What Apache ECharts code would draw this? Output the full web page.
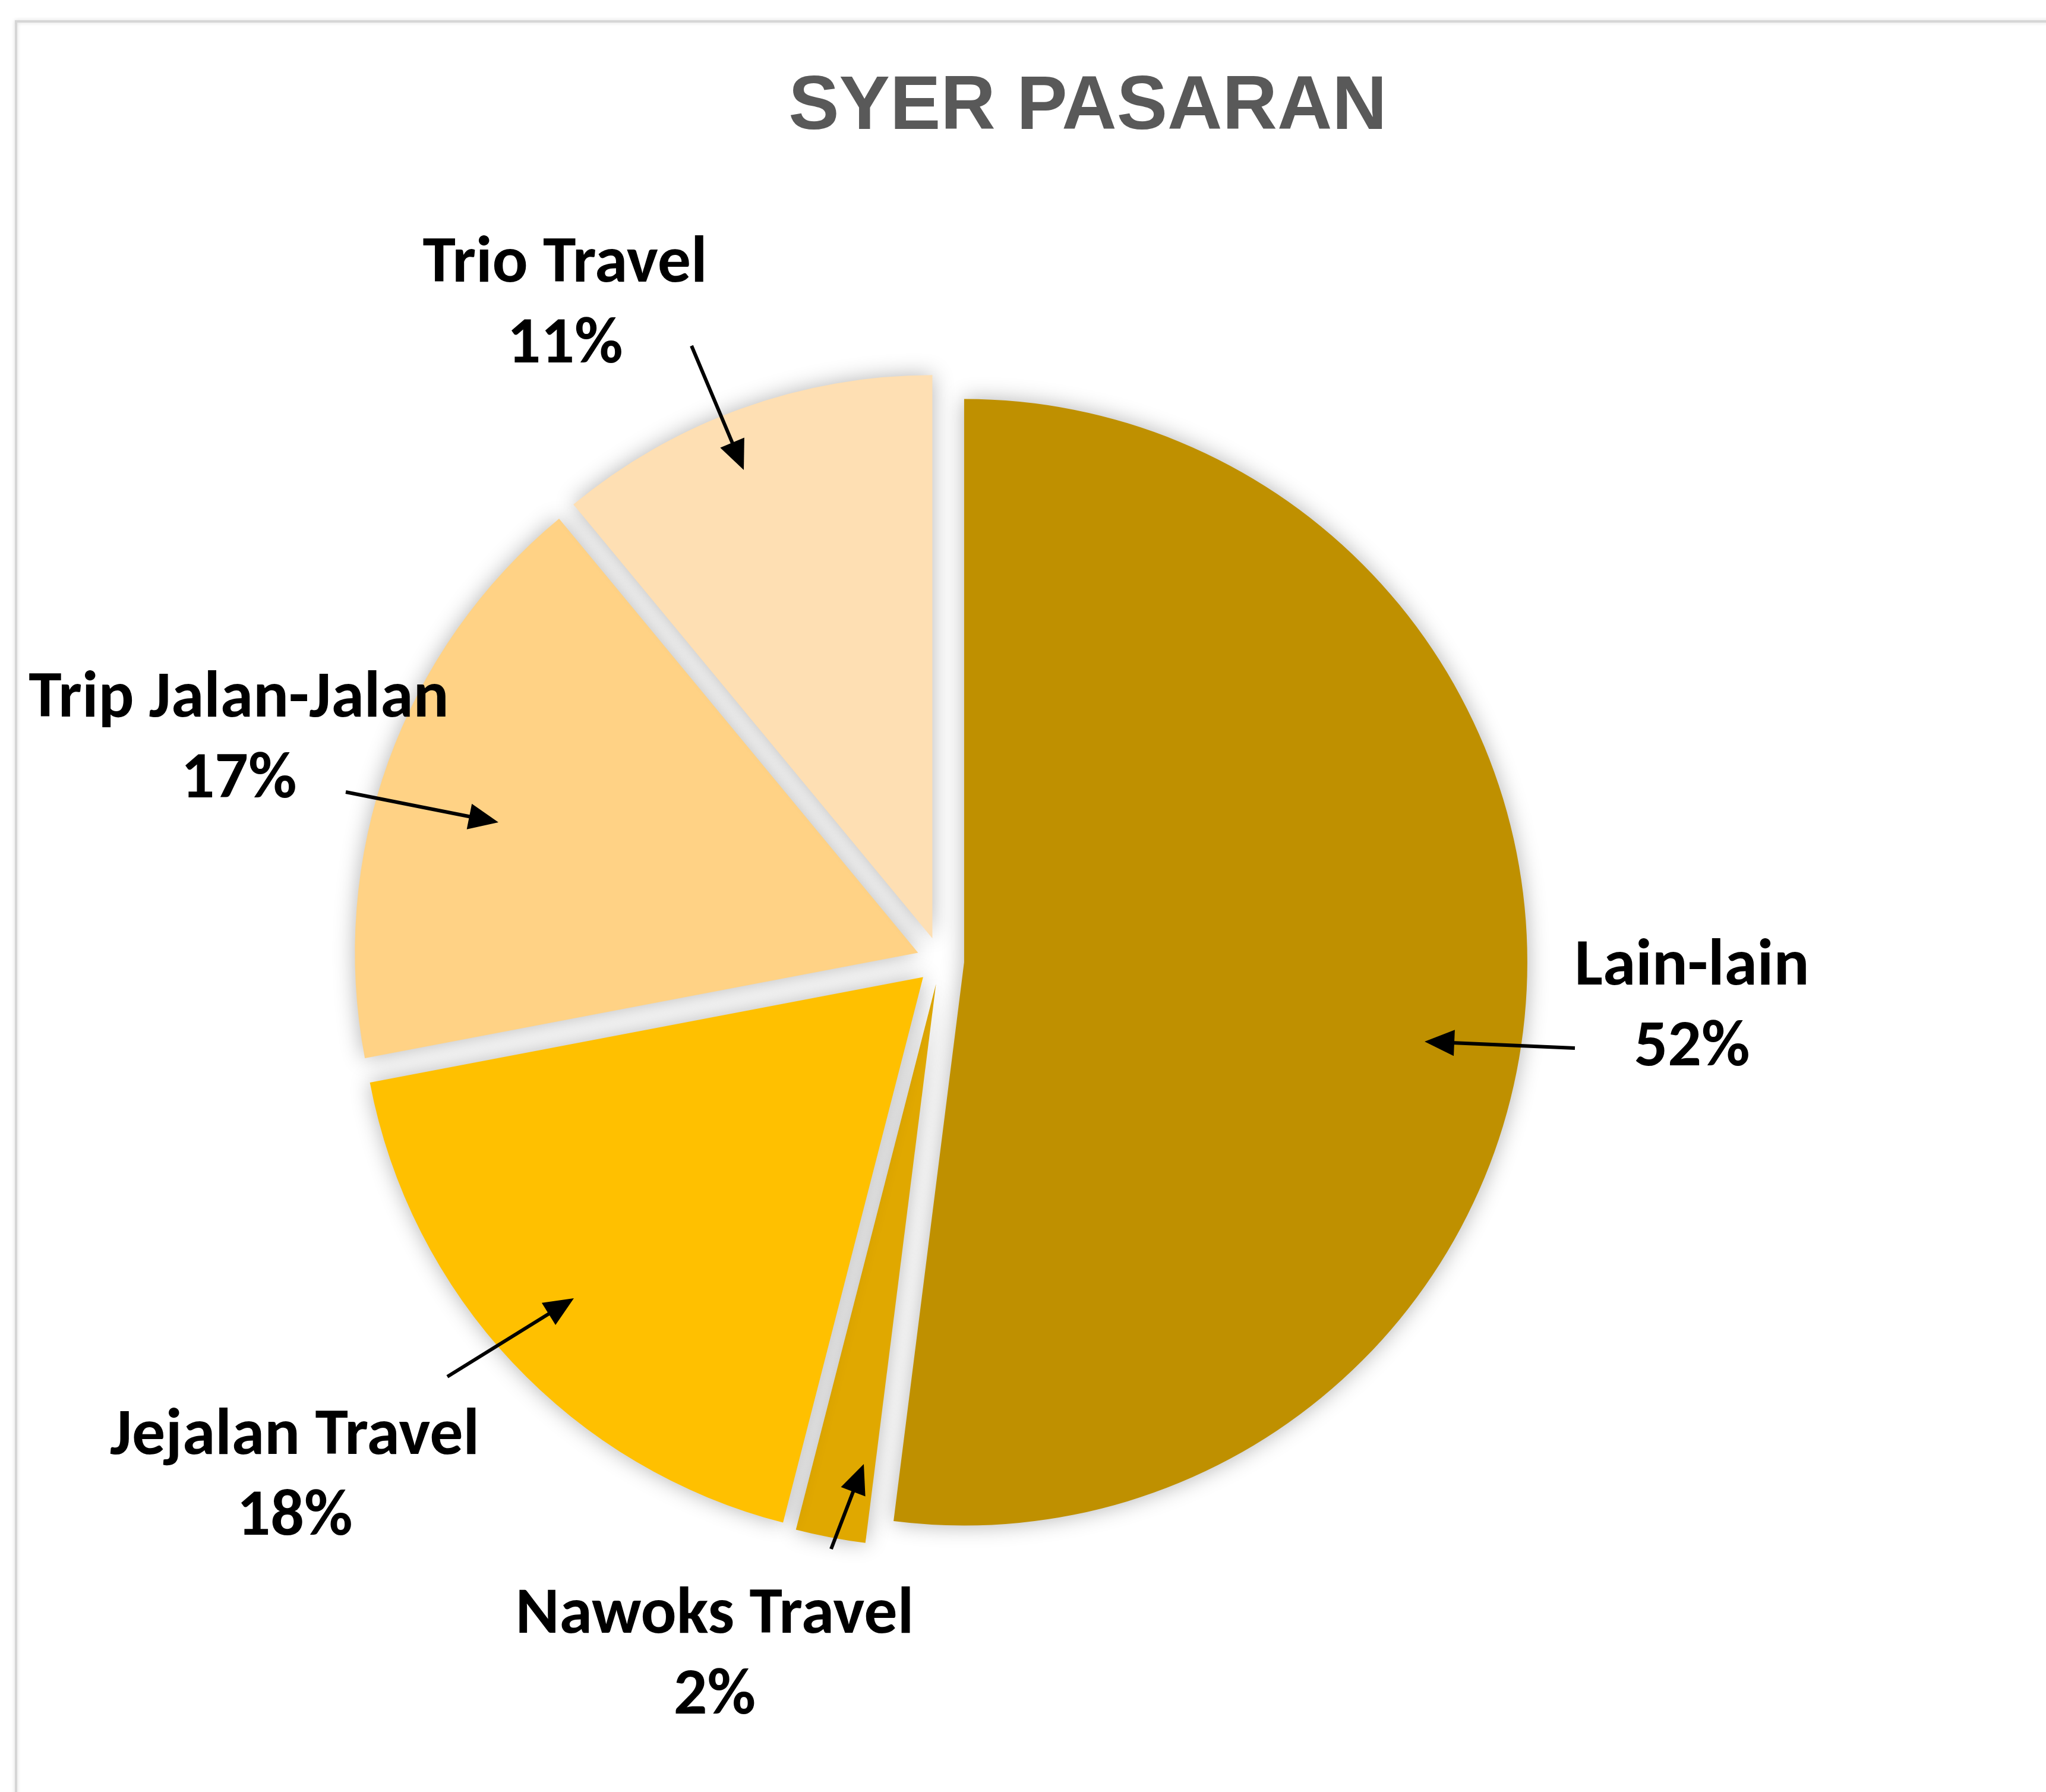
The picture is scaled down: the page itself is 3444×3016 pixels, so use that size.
<!DOCTYPE html>
<html>
<head>
<meta charset="utf-8">
<title>SYER PASARAN</title>
<script src="https://cdn.jsdelivr.net/npm/echarts@6/dist/echarts.min.js"></script>
<style>
  html, body { margin: 0; padding: 0; background: #fff; }
  #chart { width: 3444px; height: 3016px; }
</style>
</head>
<body>
<div id="chart"></div>
<script>
// data
var categories = ['Lain-lain', 'Nawoks Travel', 'Jejalan Travel', 'Trip Jalan-Jalan', 'Trio Travel'];
var shares = [52, 2, 18, 17, 11];
var colors = ['#BF9000', '#E0A800', '#FFC000', '#FFD285', '#FEDFB3'];

// layout of the pie (px)
var cx = 1583, cy = 1617, R = 948, explode = 40;

// callouts: label centre, arrow start, arrow tip
var labelPos = [[2848, 1697], [1203, 2788], [496, 2487], [402, 1246], [951, 514]];
var arrowTail = [[2651, 1764], [1399, 2607], [753, 2317], [582, 1333], [1164, 582]];
var arrowTip = [[2398, 1753], [1454, 2464], [966, 2185], [839, 1384], [1252, 791]];

var chart = echarts.init(document.getElementById('chart'));

var total = shares.reduce(function (s, v) { return s + v; }, 0);

var graphics = [{
  type: 'rect',
  shape: { x: 27, y: 36, width: 3600, height: 3200 },
  style: { fill: 'none', stroke: '#d6d6d6', lineWidth: 4, shadowBlur: 6, shadowColor: 'rgba(0,0,0,0.15)' },
  silent: true
}];

categories.forEach(function (name, i) {
  var pct = Math.round(shares[i] / total * 100);
  graphics.push({
    type: 'text',
    z: 10, silent: true,
    style: {
      text: name + '\n' + pct + '%',
      x: labelPos[i][0],
      y: labelPos[i][1],
      align: 'center',
      verticalAlign: 'middle',
      fontFamily: 'Carlito, Lato, sans-serif',
      fontWeight: 'bold',
      fontSize: 112,
      lineHeight: 136,
      fill: '#000'
    }
  });

  var tip = arrowTip[i], tail = arrowTail[i];
  var ux = tip[0] - tail[0], uy = tip[1] - tail[1];
  var len = Math.sqrt(ux * ux + uy * uy);
  ux /= len; uy /= len;
  var headL = 50, headW = 44;
  var base = [tip[0] - ux * headL, tip[1] - uy * headL];
  graphics.push({
    type: 'line',
    z: 10, silent: true,
    shape: { x1: tail[0], y1: tail[1], x2: base[0] + ux * 4, y2: base[1] + uy * 4 },
    style: { stroke: '#000', lineWidth: 6 }
  });
  graphics.push({
    type: 'polygon',
    z: 10, silent: true,
    shape: { points: [tip, [base[0] - uy * headW / 2, base[1] + ux * headW / 2], [base[0] + uy * headW / 2, base[1] - ux * headW / 2]] },
    style: { fill: '#000' }
  });
});

var option = {
  backgroundColor: '#ffffff',
  animation: false,
  title: {
    text: 'SYER PASARAN',
    left: 1826,
    top: 113,
    textAlign: 'center',
    textStyle: {
      fontFamily: 'Liberation Sans, Arial, sans-serif',
      fontWeight: 'bold',
      fontSize: 128,
      color: '#595959'
    }
  },
  graphic: graphics,
  series: [{
    type: 'pie',
    center: [cx, cy],
    radius: R,
    startAngle: 90,
    clockwise: true,
    selectedMode: 'multiple',
    selectedOffset: explode,
    itemStyle: {
      shadowBlur: 36,
      shadowColor: 'rgba(0,0,0,0.3)'
    },
    label: { show: false },
    labelLine: { show: false },
    emphasis: { disabled: true },
    data: categories.map(function (name, i) {
      return { name: name, value: shares[i], selected: true, itemStyle: { color: colors[i] } };
    })
  }]
};

chart.setOption(option);
window.addEventListener('resize', function () { chart.resize(); });
</script>
</body>
</html>
